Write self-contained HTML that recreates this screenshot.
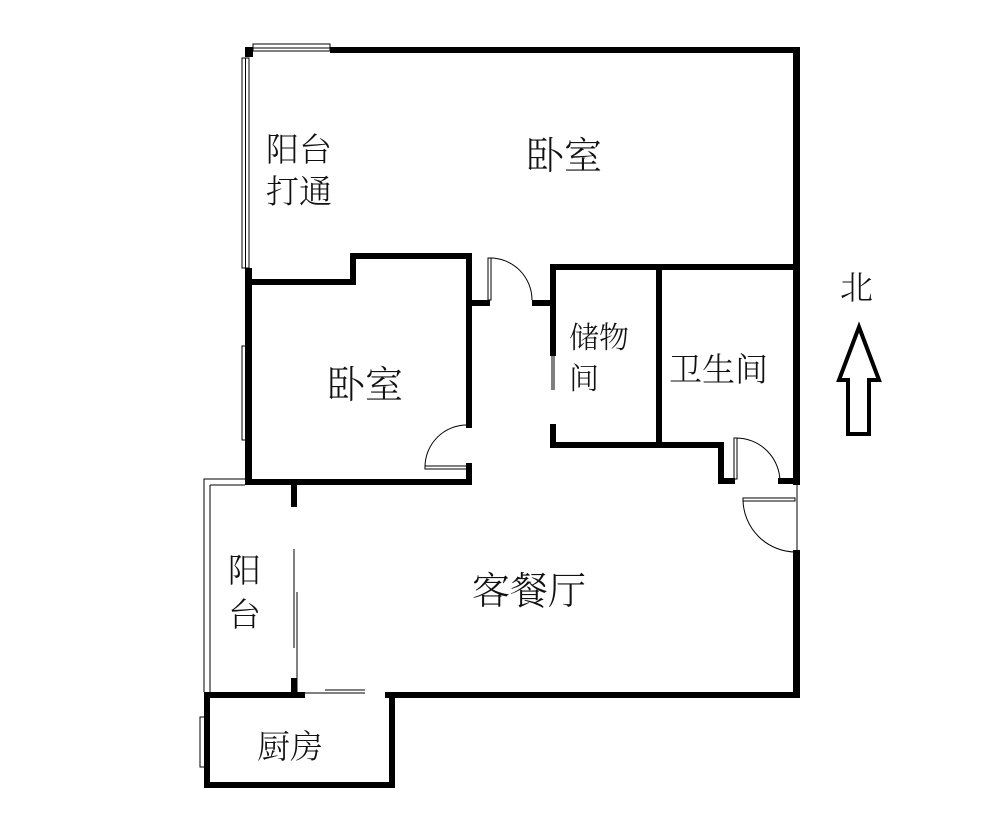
<!DOCTYPE html>
<html><head><meta charset="utf-8"><style>
html,body{margin:0;padding:0;background:#fff;}
svg{display:block}
text{font-family:"Liberation Serif","Noto Serif CJK SC",serif;fill:#111;font-weight:300;}
</style></head><body>
<svg width="1000" height="823" viewBox="0 0 1000 823" xmlns="http://www.w3.org/2000/svg">
<g fill="#000">
<rect x="330" y="47" width="470" height="6"/>
<rect x="245" y="47" width="8" height="10"/>
<rect x="245" y="268" width="7" height="217"/>
<rect x="793" y="47" width="7" height="438"/>
<rect x="793" y="550" width="7" height="148"/>
<rect x="245" y="279" width="111" height="6"/>
<rect x="350" y="253" width="6" height="32"/>
<rect x="350" y="253" width="122" height="6"/>
<rect x="466" y="253" width="6" height="53"/>
<rect x="466" y="300" width="24" height="6"/>
<rect x="466" y="306" width="6" height="122"/>
<rect x="466" y="463" width="6" height="22"/>
<rect x="245" y="479" width="227" height="6"/>
<rect x="532" y="300" width="24" height="6"/>
<rect x="550" y="264" width="250" height="6"/>
<rect x="550" y="264" width="6" height="92"/>
<rect x="550" y="424" width="6" height="24"/>
<rect x="656" y="264" width="6" height="184"/>
<rect x="550" y="442" width="174" height="6"/>
<rect x="718" y="442" width="6" height="42"/>
<rect x="718" y="478" width="17" height="6"/>
<rect x="778" y="478" width="20" height="6"/>
<rect x="291" y="485" width="6" height="22"/>
<rect x="291" y="678" width="6" height="20"/>
<rect x="204" y="692" width="101" height="6"/>
<rect x="385" y="692" width="415" height="6"/>
<rect x="204" y="692" width="6" height="96"/>
<rect x="204" y="782" width="191" height="6"/>
<rect x="389" y="692" width="6" height="96"/>
</g>
<g fill="none" stroke="#000" stroke-width="1">
<rect x="253" y="44" width="77" height="7"/>
<line x1="253" y1="48" x2="330" y2="48"/>
<rect x="242" y="58" width="7" height="210"/>
<line x1="245.5" y1="58" x2="245.5" y2="268"/>
<rect x="242" y="346" width="7" height="94"/>
<line x1="245.5" y1="346" x2="245.5" y2="440"/>
<rect x="200" y="717" width="6" height="50"/>
<polyline points="245,479 204,479 204,692"/>
<line x1="210" y1="485" x2="210" y2="692"/>
<line x1="210" y1="485" x2="245" y2="485"/>
<line x1="294" y1="549" x2="294" y2="648"/>
<line x1="297" y1="592" x2="297" y2="692"/>
<line x1="305" y1="693" x2="365" y2="693"/>
<line x1="325" y1="690" x2="365" y2="690"/>
<line x1="552" y1="356" x2="552" y2="390"/>
<line x1="554" y1="356" x2="554" y2="390"/>
<rect x="488" y="258" width="3" height="42"/>
<path d="M490 258 A42 42 0 0 1 532 300"/>
<rect x="425" y="466" width="42" height="3"/>
<path d="M425 467 A42 42 0 0 1 467 425"/>
<rect x="734" y="438" width="3" height="41"/>
<path d="M736 438 A44 44 0 0 1 780 482"/>
<rect x="743" y="498" width="52" height="3"/>
<path d="M743 500 A53 53 0 0 0 796 552"/>
<line x1="797" y1="485" x2="797" y2="552"/>
</g>
<polygon points="859,327 879,380 869,380 869,434 848,434 848,380 839,380" fill="none" stroke="#000" stroke-width="4" stroke-linejoin="miter"/>
<g font-size="38">
<text x="526" y="169">卧室</text>
<text x="327" y="398">卧室</text>
<text x="472" y="604">客餐厅</text>
</g>
<g font-size="33">
<text x="266" y="161">阳台</text>
<text x="266" y="203">打通</text>
<text x="669" y="381">卫生间</text>
<text x="840" y="299">北</text>
<text x="228" y="582">阳</text>
<text x="228" y="626">台</text>
<text x="257" y="758">厨房</text>
</g>
<g font-size="30">
<text x="569" y="348">储物</text>
<text x="569" y="389">间</text>
</g>
</svg>
</body></html>
